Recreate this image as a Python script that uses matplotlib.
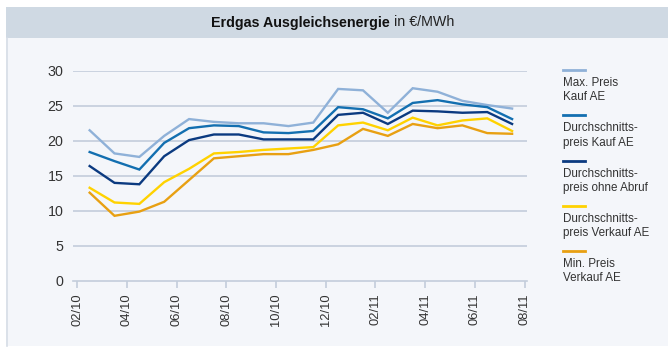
import numpy as np
import matplotlib.pyplot as plt
from matplotlib.lines import Line2D
from matplotlib.patches import Rectangle

# Monatswerte Feb 2010 bis Jul 2011 (Monatsmitte), in EUR/MWh
max_kauf = [21.5, 18.2, 17.7, 20.7, 23.1, 22.7, 22.5, 22.5, 22.1,
            22.6, 27.4, 27.2, 24.0, 27.5, 27.0, 25.7, 25.1, 24.6]
avg_kauf = [18.4, 17.1, 15.9, 19.7, 21.8, 22.2, 22.1, 21.2, 21.1,
            21.4, 24.8, 24.5, 23.2, 25.4, 25.8, 25.2, 24.8, 23.1]
avg_ohne_abruf = [16.4, 14.0, 13.8, 17.8, 20.1, 20.9, 20.9, 20.2, 20.2,
                  20.2, 23.7, 24.0, 22.4, 24.3, 24.2, 24.0, 24.1, 22.4]
avg_verkauf = [13.3, 11.2, 11.0, 14.1, 16.0, 18.2, 18.4, 18.7, 18.9,
               19.1, 22.2, 22.6, 21.5, 23.3, 22.2, 22.9, 23.2, 21.4]
min_verkauf = [12.6, 9.3, 9.9, 11.3, 14.4, 17.5, 17.8, 18.1, 18.1,
               18.7, 19.5, 21.7, 20.7, 22.4, 21.8, 22.2, 21.1, 21.0]

tick_labels = ['02/10', '04/10', '06/10', '08/10', '10/10',
               '12/10', '02/11', '04/11', '06/11', '08/11']

series = [
    (max_kauf, '#8fb1d8', 'Max. Preis\nKauf AE'),
    (avg_kauf, '#136fb0', 'Durchschnitts-\npreis Kauf AE'),
    (avg_ohne_abruf, '#0b3a80', 'Durchschnitts-\npreis ohne Abruf'),
    (avg_verkauf, '#ffd200', 'Durchschnitts-\npreis Verkauf AE'),
    (min_verkauf, '#e8a012', 'Min. Preis\nVerkauf AE'),
]

GRID = '#c3cddb'
PANEL = '#f4f6fa'
TEXT = '#333333'

plt.rcParams['font.family'] = ['Liberation Sans', 'DejaVu Sans']

W, H = 668, 347
fig = plt.figure(figsize=(W / 100, H / 100), dpi=100)
fig.patch.set_facecolor('white')

# Hintergrund: Titelleiste und Diagrammfläche
fig.add_artist(Rectangle((6 / W, 1 - 346 / H), 1, (346 - 38) / H,
                         transform=fig.transFigure, facecolor=PANEL,
                         edgecolor='none', zorder=0))
fig.add_artist(Rectangle((6 / W, 1 - 38 / H), 1, 31 / H,
                         transform=fig.transFigure, facecolor='#cfd9e3',
                         edgecolor='none', zorder=0))
fig.add_artist(Line2D([6.5 / W, 6.5 / W], [1 - 38 / H, 1 - 346 / H],
                      transform=fig.transFigure, color='#d6dde6', lw=1.2))

fig.text(390 / W, 1 - 22.5 / H, 'Erdgas Ausgleichsenergie',
         ha='right', va='center', fontsize=10.3, fontweight='bold',
         color='#111111')
fig.text(390 / W, 1 - 22.5 / H, ' in €/MWh', ha='left', va='center',
         fontsize=10.3, color='#222222')

ax = fig.add_axes([73 / W, 1 - 281 / H, (527 - 73) / W, (281 - 70.7) / H])
ax.set_facecolor('none')

x = np.arange(len(max_kauf)) + 0.5
for vals, col, lab in series:
    ax.plot(x, vals, color=col, lw=1.7, solid_joinstyle='miter', zorder=3)

ax.set_xlim(-0.17, 18.1)
ax.set_ylim(0, 30)
ax.set_yticks(range(0, 31, 5))
ax.set_xticks(range(0, 19, 2))
ax.set_xticklabels(tick_labels, rotation=90)
for y in range(5, 31, 5):
    ax.axhline(y, color=GRID, lw=1.2, zorder=1)

for s in ['top', 'right', 'left']:
    ax.spines[s].set_visible(False)
ax.spines['bottom'].set_color(GRID)
ax.spines['bottom'].set_linewidth(1.2)
ax.tick_params(axis='y', length=0, pad=7, labelsize=10.3, labelcolor=TEXT)
ax.tick_params(axis='x', length=5, width=1.2, color=GRID, pad=4,
               labelsize=9.3, labelcolor=TEXT)

# Legende: Linie oben, zweizeiliger Text darunter
lx0, lx1 = 563 / W, 585 / W
for i, (vals, col, lab) in enumerate(series):
    yl = 70 + i * 45.3
    fig.add_artist(Line2D([lx0, lx1], [1 - yl / H, 1 - yl / H],
                          transform=fig.transFigure, color=col, lw=2))
    fig.text(lx0, 1 - (yl + 7) / H, lab, ha='left', va='top',
             fontsize=8.4, color=TEXT, linespacing=1.25)

fig.savefig('out.png', dpi=100)
